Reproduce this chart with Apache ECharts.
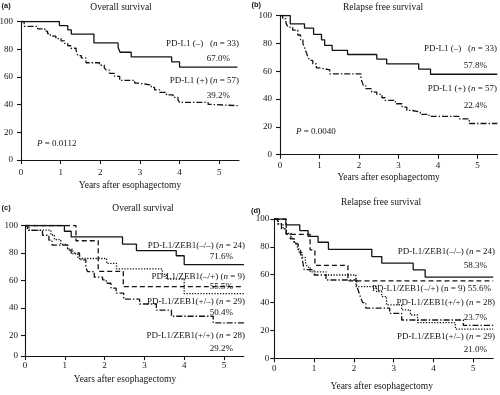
<!DOCTYPE html>
<html><head><meta charset="utf-8">
<script src="https://cdn.jsdelivr.net/npm/echarts@6/dist/echarts.min.js"></script>
<style>html,body{margin:0;padding:0;background:#fff}#c{width:500px;height:395px}</style>
</head><body><div id="c"></div>
<script>
// ---------- tick labels ----------
const yTicks = [0, 20, 40, 60, 80, 100];
const xTicks = [0, 1, 2, 3, 4, 5];
const xMax = 5.5;
// panel (c) draws its lowest tick ("0") at the axis line, which sits near 5 on the 20..100 spacing
const cYFloor = 5;
const cYTicks = [cYFloor, 20, 40, 60, 80, 100];

// ---------- panel (a) Overall survival ----------
const aNegT = [0, 0.97, 1.18, 1.27, 1.84, 2.45, 2.5, 2.78, 3.8, 4.0, 5.46];
const aNegS = [100, 97, 93.9, 90.9, 84.5, 81.2, 77.8, 74.4, 70.9, 67.0, 67.0];
const aPosT = [0, 0.08, 0.42, 0.6, 0.67, 0.74, 0.88, 1.01, 1.1, 1.18, 1.26, 1.39, 1.43, 1.52, 1.64, 1.98, 2.1, 2.15, 2.23, 2.36, 2.49, 2.87, 2.95, 3.29, 3.37, 3.5, 3.67, 3.84, 3.96, 4.0, 4.72, 4.8, 5.5];
const aPosS = [100, 96.5, 94.7, 93, 91.2, 89.5, 87.7, 86, 84.2, 82.5, 80.7, 79, 75.4, 73.7, 70.2, 68.4, 66.7, 64.9, 62.6, 60.4, 57.5, 55.5, 54.2, 52.4, 50.6, 48.8, 47, 45.2, 43.4, 41.6, 40.1, 39.2, 39.2];

// ---------- panel (b) Relapse free survival ----------
const bNegT = [0, 0.26, 0.62, 0.85, 1.05, 1.13, 1.32, 1.71, 2.45, 2.7, 3.51, 3.81, 5.5];
const bNegS = [100, 94, 91, 86.5, 82.5, 78.5, 75, 72, 68.7, 65.3, 61.5, 57.8, 57.8];
const bPosT = [0, 0.07, 0.15, 0.2, 0.32, 0.45, 0.52, 0.58, 0.62, 0.66, 0.71, 0.75, 0.83, 0.92, 1.0, 1.26, 2.05, 2.08, 2.11, 2.17, 2.32, 2.45, 2.58, 2.66, 2.92, 3.09, 3.21, 3.34, 3.55, 3.77, 4.53, 4.79, 5.5];
const bPosS = [100, 97.6, 94.7, 91.6, 89.5, 86, 82.5, 79.7, 77.3, 73.7, 70.1, 67.7, 65.3, 62.4, 61, 58, 54.5, 52, 49.8, 47.4, 45, 43.3, 40.9, 39, 36.6, 34.2, 31.8, 30.6, 29, 27.5, 25.8, 22.4, 22.4];

// ---------- panel (c) Overall survival, PD-L1/ZEB1 ----------
const cNNT = [0, 0.99, 1.16, 2.45, 2.8, 3.8, 4.0, 5.5];
const cNNS = [100, 95.8, 91.7, 86.5, 81.7, 78, 71.6, 71.6];
const cNPT = [0, 1.28, 1.84, 2.47, 5.5];
const cNPS = [100, 88.9, 66.7, 55.5, 55.5];
const cPNT = [0, 0.1, 0.65, 0.74, 0.9, 1.07, 1.2, 1.33, 2.05, 2.3, 3.45, 3.55, 4.0, 5.5];
const cPNS = [100, 96.6, 93.1, 89.7, 86.2, 82.8, 79.3, 76, 72.4, 68.4, 64.5, 61, 50.4, 50.4];
const cPPT = [0, 0.06, 0.44, 0.6, 0.68, 1.07, 1.16, 1.37, 1.41, 1.53, 1.57, 1.74, 1.95, 2.04, 2.16, 2.29, 2.48, 2.88, 3.3, 3.68, 4.73, 5.5];
const cPPS = [100, 96.4, 92.9, 89.3, 85.7, 82.1, 80, 78, 75, 69.6, 66.5, 62.4, 60.5, 58, 54.5, 50.8, 46.4, 42.9, 38.4, 34, 29.2, 29.2];

// ---------- panel (d) Relapse free survival, PD-L1/ZEB1 ----------
const dNNT = [0, 0.29, 0.64, 0.85, 1.1, 1.36, 2.45, 2.7, 3.49, 3.79, 5.5];
const dNNS = [100, 95.8, 91.7, 87.5, 83.3, 78.2, 73, 68.3, 63.5, 58.3, 58.3];
const dNPT = [0, 0.3, 0.9, 1.02, 1.85, 5.5];
const dNPS = [100, 88.9, 77.8, 66.7, 55.6, 55.6];
const dPNT = [0, 0.1, 0.22, 0.3, 0.42, 0.5, 0.58, 0.63, 0.7, 0.78, 0.83, 0.9, 1.3, 2.05, 2.57, 2.7, 2.82, 3.2, 3.42, 3.6, 4.55, 5.5];
const dPNS = [100, 96.6, 93.1, 89.7, 86.2, 82.8, 79.3, 75.9, 72.4, 69, 65.5, 62.1, 59.8, 51.4, 47.8, 44.3, 38.3, 34.7, 31.1, 25.6, 21.0, 21.0];
const dPPT = [0, 0.08, 0.18, 0.3, 0.4, 0.5, 0.6, 0.66, 0.7, 0.75, 1.0, 1.3, 2.07, 2.12, 2.17, 2.22, 2.3, 2.9, 3.2, 4.75, 5.5];
const dPPS = [100, 96.4, 92.9, 89.3, 85.7, 82.1, 78.6, 75, 71.4, 63.6, 59.8, 56.2, 52, 47.8, 43.5, 40, 36, 32.3, 27.5, 23.7, 23.7];

// ---------- texts ----------
const panelLetters = ['(a)', '(b)', '(c)', '(d)'];
const panelTitles = ['Overall survival', 'Relapse free survival', 'Overall survival', 'Relapse free survival'];
const xName = 'Years after esophagectomy';
const aLabels = ['PD-L1 (–)   ({i|n} = 33)', '67.0%', 'PD-L1 (+) ({i|n} = 57)', '39.2%'];
const bLabels = ['PD-L1 (–)   ({i|n} = 33)', '57.8%', 'PD-L1 (+) ({i|n} = 57)', '22.4%'];
const cLabels = ['PD-L1/ZEB1(–/–) ({i|n} = 24)', '71.6%', 'PD-L1/ZEB1(–/+) ({i|n} = 9)', '55.5%',
                 'PD-L1/ZEB1(+/–) ({i|n} = 29)', '50.4%', 'PD-L1/ZEB1(+/+) ({i|n} = 28)', '29.2%'];
const dLabels = ['PD-L1/ZEB1(–/–) ({i|n} = 24)', '58.3%', 'PD-L1/ZEB1(–/+) (n = 9) 55.6%',
                 'PD-L1/ZEB1(+/+) ({i|n} = 28)', '23.7%', 'PD-L1/ZEB1(+/–) ({i|n} = 29)', '21.0%'];
const pValues = ['{i|P} = 0.0112', '{i|P} = 0.0040'];

// ---------- build ----------
const FF = '"Liberation Serif", "Times New Roman", serif';
const INK = '#141414';
const STY = {
  solid: 'solid',
  dashdot: [6, 2, 1.4, 2],
  dashed: [5, 3],
  dotted: [1.3, 1.5]
};
function pts(T, S) { return T.map((t, i) => [t, S[i]]); }
function km(k, T, S, style) {
  return { type: 'line', step: 'end', xAxisIndex: k, yAxisIndex: k, data: pts(T, S), symbol: 'none',
    silent: true, animation: false,
    lineStyle: { color: INK, width: 1.3, type: STY[style] } };
}
const grids = [
  { left: 21, top: 21.5, width: 218, height: 138.5 },
  { left: 280, top: 15.5, width: 217.3, height: 139.2 },
  { left: 25, top: 225.5, width: 218.9, height: 130.6 },
  { left: 274.3, top: 219, width: 218.9, height: 139.3 }
].map(g => Object.assign({ outerBoundsMode: 'none', containLabel: false }, g));

const nameGaps = [20, 18, 18, 23];
const namePad = [[0, 0, 0, 0], [0, 0, 0, 0], [0, 19, 0, 0], [0, 4, 0, 0]];
const xLabelMargin = [8, 6, 5, 6];
const yLabelMargin = [8, 8, 7, 5];

const xAxes = grids.map((g, k) => ({
  gridIndex: k, type: 'value', min: 0, max: xMax, interval: 1,
  axisLine: { onZero: false, lineStyle: { color: INK, width: 1.1 } },
  axisTick: { length: 4, customValues: xTicks, lineStyle: { color: INK, width: 1.1 } },
  axisLabel: { customValues: xTicks, margin: xLabelMargin[k], fontFamily: FF, fontSize: 9, color: INK,
    formatter: v => Number.isInteger(v) ? String(v) : '' },
  splitLine: { show: false },
  name: xName, nameLocation: 'middle', nameGap: nameGaps[k],
  nameTextStyle: { fontFamily: FF, fontSize: 9.5, color: INK, padding: namePad[k] }
}));
const yAxes = grids.map((g, k) => {
  const isC = k === 2;
  const vals = isC ? cYTicks : yTicks;
  return {
    gridIndex: k, type: 'value', min: isC ? cYFloor : 0, max: 100,
    interval: isC ? undefined : 20,
    axisLine: { onZero: false, lineStyle: { color: INK, width: 1.1 } },
    axisTick: { length: 4, customValues: vals, lineStyle: { color: INK, width: 1.1 } },
    axisLabel: { customValues: vals, margin: yLabelMargin[k], fontFamily: FF, fontSize: 9, color: INK,
      formatter: v => (isC && v === cYFloor) ? '0' : String(v) },
    splitLine: { show: false }
  };
});

const series = [
  km(0, aNegT, aNegS, 'solid'), km(0, aPosT, aPosS, 'dashdot'),
  km(1, bNegT, bNegS, 'solid'), km(1, bPosT, bPosS, 'dashdot'),
  km(2, cNNT, cNNS, 'solid'), km(2, cNPT, cNPS, 'dashed'), km(2, cPNT, cPNS, 'dotted'), km(2, cPPT, cPPS, 'dashdot'),
  km(3, dNNT, dNNS, 'solid'), km(3, dNPT, dNPS, 'dashed'), km(3, dPNT, dPNS, 'dotted'), km(3, dPPT, dPPS, 'dashdot')
];

function txt(x, y, text, align, size, fontSpec) {
  const font = fontSpec || (size + 'px ' + FF);
  return { type: 'text', x: x, y: y, silent: true, z: 10,
    style: { text: text, font: font, fill: INK,
      textAlign: align, align: align, textVerticalAlign: 'middle', verticalAlign: 'middle',
      rich: { i: { font: 'italic ' + size + 'px ' + FF, fill: INK } } } };
}
const S = 9;
const LF = 'bold 7.5px "Liberation Sans", Arial, sans-serif';
const graphics = [
  // panel letters
  txt(1.5, 6, panelLetters[0], 'left', 7.5, LF),
  txt(251.5, 5, panelLetters[1], 'left', 7.5, LF),
  txt(1.5, 208, panelLetters[2], 'left', 7.5, LF),
  txt(251, 211, panelLetters[3], 'left', 7.5, LF),
  // titles
  txt(121, 7, panelTitles[0], 'center', 9.5),
  txt(383, 7, panelTitles[1], 'center', 9.5),
  txt(143, 208, panelTitles[2], 'center', 9.5),
  txt(381, 202, panelTitles[3], 'center', 9.5),
  // panel a
  txt(239, 44, aLabels[0], 'right', S), txt(230, 59, aLabels[1], 'right', S),
  txt(239, 81, aLabels[2], 'right', S), txt(230, 96, aLabels[3], 'right', S),
  txt(37, 144, pValues[0], 'left', S),
  // panel b
  txt(497, 49, bLabels[0], 'right', S), txt(487, 66, bLabels[1], 'right', S),
  txt(497, 89, bLabels[2], 'right', S), txt(487, 106, bLabels[3], 'right', S),
  txt(296, 132, pValues[1], 'left', S),
  // panel c
  txt(245, 246, cLabels[0], 'right', S), txt(233, 257, cLabels[1], 'right', S),
  txt(245, 277, cLabels[2], 'right', S), txt(233, 287, cLabels[3], 'right', S),
  txt(245, 302, cLabels[4], 'right', S), txt(233, 313, cLabels[5], 'right', S),
  txt(245, 336, cLabels[6], 'right', S), txt(233, 349, cLabels[7], 'right', S),
  // panel d
  txt(495, 252, dLabels[0], 'right', S), txt(487, 266, dLabels[1], 'right', S),
  txt(491, 289, dLabels[2], 'right', S),
  txt(495, 303, dLabels[3], 'right', S), txt(487, 318, dLabels[4], 'right', S),
  txt(495, 337, dLabels[5], 'right', S), txt(487, 350, dLabels[6], 'right', S)
];

const chart = echarts.init(document.getElementById('c'), null, { renderer: 'canvas', width: 500, height: 395 });
chart.setOption({
  backgroundColor: '#ffffff',
  animation: false,
  grid: grids,
  xAxis: xAxes,
  yAxis: yAxes,
  series: series,
  graphic: { elements: graphics }
});
</script>
</body></html>
